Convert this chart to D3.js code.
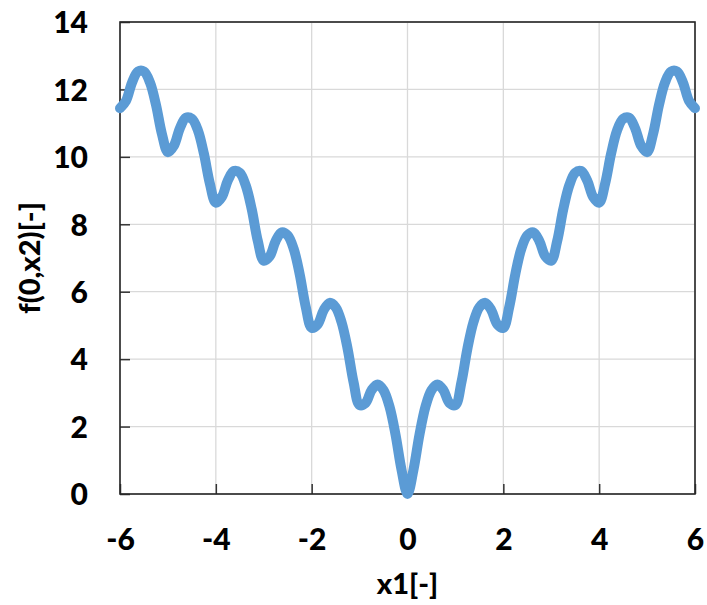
<!DOCTYPE html>
<html>
<head>
<meta charset="utf-8">
<script src="https://cdn.jsdelivr.net/npm/d3@7"></script>
<style>
  body { margin: 0; background: #fff; }
  text { font-family: Lato, "Liberation Sans", sans-serif; font-weight: 900; }
</style>
</head>
<body>
<div id="visualization"></div>
<script>
// x1 values (step 0.125)
const xValues = [
  -6, -5.875, -5.75, -5.625, -5.5, -5.375, -5.25, -5.125,
  -5, -4.875, -4.75, -4.625, -4.5, -4.375, -4.25, -4.125,
  -4, -3.875, -3.75, -3.625, -3.5, -3.375, -3.25, -3.125,
  -3, -2.875, -2.75, -2.625, -2.5, -2.375, -2.25, -2.125,
  -2, -1.875, -1.75, -1.625, -1.5, -1.375, -1.25, -1.125,
  -1, -0.875, -0.75, -0.625, -0.5, -0.375, -0.25, -0.125,
  0, 0.125, 0.25, 0.375, 0.5, 0.625, 0.75, 0.875,
  1, 1.125, 1.25, 1.375, 1.5, 1.625, 1.75, 1.875,
  2, 2.125, 2.25, 2.375, 2.5, 2.625, 2.75, 2.875,
  3, 3.125, 3.25, 3.375, 3.5, 3.625, 3.75, 3.875,
  4, 4.125, 4.25, 4.375, 4.5, 4.625, 4.75, 4.875,
  5, 5.125, 5.25, 5.375, 5.5, 5.625, 5.75, 5.875,
  6
];

// f(0,x2) values
const fValues = [
  11.44, 11.66, 12.20, 12.53, 12.53, 12.21, 11.55, 10.68,
  10.14, 10.33, 10.85, 11.16, 11.13, 10.79, 10.10, 9.21,
  8.64, 8.81, 9.30, 9.58, 9.53, 9.15, 8.44, 7.51,
  6.92, 7.05, 7.51, 7.76, 7.67, 7.27, 6.52, 5.56,
  4.93, 5.03, 5.45, 5.67, 5.54, 5.09, 4.31, 3.31,
  2.64, 2.70, 3.08, 3.25, 3.08, 2.59, 1.76, 0.72,
  0.00, 0.72, 1.76, 2.59, 3.08, 3.25, 3.08, 2.70,
  2.64, 3.31, 4.31, 5.09, 5.54, 5.67, 5.45, 5.03,
  4.93, 5.56, 6.52, 7.27, 7.67, 7.76, 7.51, 7.05,
  6.92, 7.51, 8.44, 9.15, 9.53, 9.58, 9.30, 8.81,
  8.64, 9.21, 10.10, 10.79, 11.13, 11.16, 10.85, 10.33,
  10.14, 10.68, 11.55, 12.21, 12.53, 12.53, 12.20, 11.66,
  11.44
];

const xTicks = [-6, -4, -2, 0, 2, 4, 6];
const yTicks = [0, 2, 4, 6, 8, 10, 12, 14];

const W = 707, H = 605;
const margin = { top: 22, right: 12, bottom: 111, left: 120 };
const width = W - margin.left - margin.right;
const height = H - margin.top - margin.bottom;

const svg = d3.select("#visualization").append("svg")
    .attr("width", W)
    .attr("height", H)
  .append("g")
    .attr("transform", "translate(" + margin.left + "," + margin.top + ")");

const x = d3.scaleLinear().domain([-6, 6]).range([0, width]);
const y = d3.scaleLinear().domain([0, 14]).range([height, 0]);

// Gridlines
svg.append("g")
    .selectAll("line")
    .data(xTicks)
  .enter().append("line")
    .attr("x1", d => x(d)).attr("x2", d => x(d))
    .attr("y1", 0).attr("y2", height)
    .attr("stroke", "#d9d9d9").attr("stroke-width", 1.3);

svg.append("g")
    .selectAll("line")
    .data(yTicks)
  .enter().append("line")
    .attr("x1", 0).attr("x2", width)
    .attr("y1", d => y(d)).attr("y2", d => y(d))
    .attr("stroke", "#d9d9d9").attr("stroke-width", 1.3);

// Axes with inward ticks, plain hyphen for negatives
const fmt = d => String(d);

const xAxis = svg.append("g")
    .attr("transform", "translate(0," + height + ")")
    .call(d3.axisBottom(x).tickValues(xTicks).tickFormat(fmt).tickSizeInner(-10).tickSizeOuter(0).tickPadding(35));

const yAxis = svg.append("g")
    .call(d3.axisLeft(y).tickValues(yTicks).tickFormat(fmt).tickSizeInner(-10).tickSizeOuter(0).tickPadding(32));

[xAxis, yAxis].forEach(a => {
    a.select(".domain").remove();
    a.selectAll(".tick line").attr("stroke", "#333").attr("stroke-width", 1.5);
    a.selectAll(".tick text")
        .attr("font-size", "30px")
        .attr("font-family", "Lato, 'Liberation Sans', sans-serif")
        .attr("font-weight", "900")
        .attr("fill", "#000");
});
yAxis.selectAll(".tick text").attr("dy", "0.36em");

// Plot frame
svg.append("rect")
    .attr("x", 0).attr("y", 0)
    .attr("width", width).attr("height", height)
    .attr("fill", "none")
    .attr("stroke", "#262626")
    .attr("stroke-width", 1.6);

// Curve
const line = d3.line()
    .x((d, i) => x(xValues[i]))
    .y(d => y(d))
    .curve(d3.curveCatmullRom.alpha(0.5));

svg.append("path")
    .datum(fValues)
    .attr("fill", "none")
    .attr("stroke", "#5b9bd5")
    .attr("stroke-width", 10)
    .attr("stroke-linecap", "round")
    .attr("stroke-linejoin", "round")
    .attr("d", line);

// Axis titles
svg.append("text")
    .attr("x", width / 2)
    .attr("y", height + 100)
    .attr("text-anchor", "middle")
    .attr("font-size", "29px")
    .attr("fill", "#000")
    .text("x1[-]");

svg.append("text")
    .attr("transform", "rotate(-90)")
    .attr("x", -height / 2)
    .attr("y", -margin.left + 40)
    .attr("text-anchor", "middle")
    .attr("font-size", "29px")
    .attr("fill", "#000")
    .text("f(0,x2)[-]");
</script>
</body>
</html>
